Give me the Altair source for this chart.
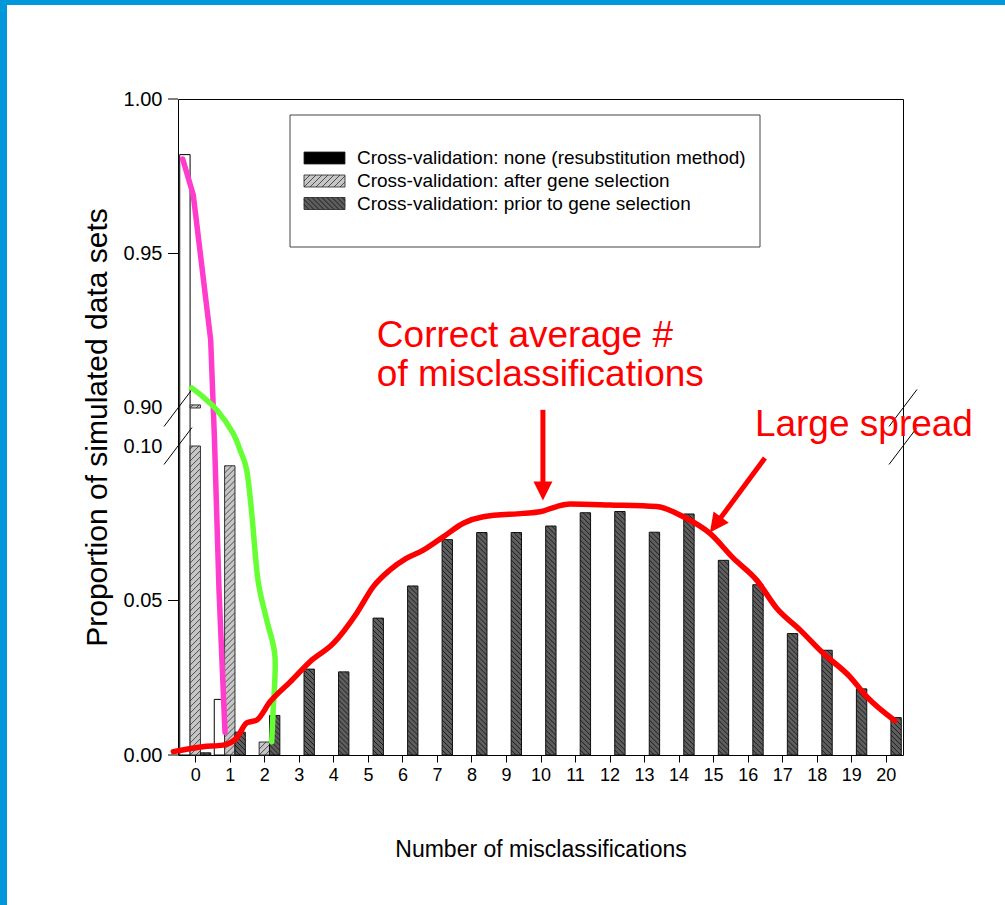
import math
import altair as alt
import pandas as pd

# ---------------------------------------------------------------- data
misclassifications = list(range(21))

series = [
    "Cross-validation: none (resubstitution method)",
    "Cross-validation: after gene selection",
    "Cross-validation: prior to gene selection",
]

# proportion of simulated data sets with a given number of misclassifications
resubstitution = [0.982, 0.018, 0, 0, 0, 0, 0, 0, 0, 0, 0,
                  0, 0, 0, 0, 0, 0, 0, 0, 0, 0]
cv_after = [0.901, 0.0936, 0.0042, 0, 0, 0, 0, 0, 0, 0, 0,
            0, 0, 0, 0, 0, 0, 0, 0, 0, 0]
cv_prior = [0.0007, 0.0074, 0.0128, 0.0278, 0.0269, 0.0443, 0.0547,
            0.0697, 0.0720, 0.0720, 0.0741, 0.0784, 0.0788, 0.0721,
            0.0780, 0.0630, 0.0551, 0.0393, 0.0339, 0.0214, 0.0121]

# y-axis tick labels
y_ticks = [0.00, 0.05, 0.10, 0.90, 0.95, 1.00]

# hand-drawn outlines (x: misclassifications, y: position on the broken axis,
# where the 0.90-1.00 segment sits directly above 0.10)
pink_x = [-0.364, -0.057, 0.447, 0.557, 0.688, 0.861]
pink_y = [0.1929, 0.1812, 0.1343, 0.1019, 0.0534, 0.0074]

green_x = [-0.103, 0.224, 0.621, 1.093, 1.296, 1.490, 1.635, 1.817,
           2.069, 2.310, 2.252, 2.214]
green_y = [0.1188, 0.1159, 0.1117, 0.1042, 0.0987, 0.0922, 0.0783, 0.0566,
           0.0437, 0.0317, 0.0136, 0.0043]

red_x = [-0.636, 0.224, 0.803, 1.200, 1.490, 1.780, 2.165, 2.744, 3.323,
         3.998, 4.676, 5.157, 5.641, 6.124, 6.605, 7.184, 7.764, 8.343,
         9.502, 9.985, 10.469, 10.854, 12.013, 13.366, 14.136, 14.910,
         15.584, 16.262, 16.841, 17.516, 18.191, 18.965, 19.448, 20.268]
red_y = [0.0011, 0.0027, 0.0032, 0.0055, 0.0104, 0.0113, 0.0172, 0.0236,
         0.0302, 0.0361, 0.0459, 0.0545, 0.0599, 0.0637, 0.0663, 0.0706,
         0.0750, 0.0771, 0.0782, 0.0787, 0.0804, 0.0812, 0.0809, 0.0804,
         0.0771, 0.0717, 0.0637, 0.0566, 0.0475, 0.0405, 0.0329, 0.0253,
         0.0189, 0.0111]

# red call-outs
notes = ["Correct average #", "of misclassifications", "Large spread"]
notes_x = [5.26, 5.26, 16.21]
notes_y = [0.1320, 0.1194, 0.1032]

arrow_tail_x = [10.07, 16.50]
arrow_tail_y = [0.1117, 0.0961]
arrow_head_x = [10.07, 15.07]
arrow_head_y = [0.0854, 0.0745]

# ---------------------------------------------------------------- broken axis
LOW_MAX, HIGH_MIN, HIGH_MAX = 0.10, 0.90, 1.00
GAP = 0.0123
SHIFT = round(HIGH_MIN - LOW_MAX - GAP, 4)
X_MIN, X_MAX = -0.5, 20.5
Y_TOP = round(HIGH_MAX - SHIFT, 4)


def axis_pos(v):
    return v if v <= LOW_MAX else round(v - SHIFT, 4)


W, H = 725, 656
XPX = W / (X_MAX - X_MIN)
YPX = H / Y_TOP

xs = alt.Scale(domain=[X_MIN, X_MAX], nice=False, zero=False)
ys = alt.Scale(domain=[0, Y_TOP], nice=False, zero=False)

FONT = "Liberation Sans"

tick_pos = [axis_pos(v) for v in y_ticks]
label_expr = (f"datum.value > {LOW_MAX + GAP / 2} ? "
              f"format(datum.value + {SHIFT}, '.2f') : format(datum.value, '.2f')")

x_axis = alt.Axis(values=misclassifications, tickCount=21, format="d", tickSize=7,
                  labelPadding=4, labelFontSize=18, grid=False, domain=False,
                  labelFlush=False, labelOverlap=False,
                  title="Number of misclassifications", titleFontSize=23,
                  titleFontWeight="normal", titlePadding=54)
y_axis = alt.Axis(values=tick_pos, labelExpr=label_expr, ticks=False,
                  labelPadding=16, labelFontSize=20, grid=False, domain=False,
                  labelOverlap=False, labelFlush=False,
                  title="Proportion of simulated data sets", titleFontSize=30,
                  titleFontWeight="normal", titlePadding=11)


# every layer on the data scales carries the same axis definition
def X(f):
    return alt.X(f, type="quantitative", scale=xs, axis=x_axis)


def Y(f):
    return alt.Y(f, type="quantitative", scale=ys, axis=y_axis)


def hatch(x0, x1, y0, y1, rising, step):
    """45-degree hatch segments inside a box given in pixels (y up)."""
    w, h = x1 - x0, y1 - y0
    segs = []
    if rising:
        k = math.floor(-w / step) + 1
        while k * step < h:
            c = k * step
            a, b = max(0.0, -c), min(w, h - c)
            if b - a > 0.3:
                segs.append((x0 + a, y0 + a + c, x0 + b, y0 + b + c))
            k += 1
    else:
        k = 1
        while k * step < w + h:
            c = k * step
            a, b = max(0.0, c - h), min(w, c)
            if b - a > 0.3:
                segs.append((x0 + a, y0 + c - a, x0 + b, y0 + c - b))
            k += 1
    return segs


styles = {
    series[0]: dict(fill="white", stroke="black", hatch=None),
    series[1]: dict(fill="#c6c6c6", stroke="#333333", hatch=(True, 6.0, "#2e2e2e")),
    series[2]: dict(fill="#5e5e5e", stroke="#111111", hatch=(False, 5.0, "#0d0d0d")),
}
swatch_fill = {series[0]: "black", series[1]: "#c6c6c6", series[2]: "#5e5e5e"}

# ---------------------------------------------------------------- bar pieces
bar_rows, hatch_rows = [], []
for s, (name, vals) in enumerate(zip(series, [resubstitution, cv_after, cv_prior])):
    for c, v in zip(misclassifications, vals):
        if v <= 0:
            continue
        x0 = c - 0.45 + 0.3 * s
        x1 = x0 + 0.3
        if styles[name]["hatch"] is None or v <= LOW_MAX:
            pieces = [(0.0, axis_pos(v))]
        else:
            pieces = [(0.0, LOW_MAX), (axis_pos(HIGH_MIN), axis_pos(v))]
        for y0, y1 in pieces:
            bar_rows.append(dict(series=name, x0=x0, x1=x1, y0=y0, y1=y1))
            if styles[name]["hatch"]:
                rising, step, _ = styles[name]["hatch"]
                for (a, b, cc, d) in hatch((x0 - X_MIN) * XPX, (x1 - X_MIN) * XPX,
                                           y0 * YPX, y1 * YPX, rising, step):
                    hatch_rows.append(dict(series=name,
                                           x=a / XPX + X_MIN, y=b / YPX,
                                           x2=cc / XPX + X_MIN, y2=d / YPX))
bars = pd.DataFrame(bar_rows)
hatches = pd.DataFrame(hatch_rows)

one = pd.DataFrame({"k": [0]})
layers = []

for name in series:
    st = styles[name]
    layers.append(
        alt.Chart(bars).transform_filter(alt.datum.series == name)
        .mark_rect(fill=st["fill"], stroke=st["stroke"], strokeWidth=1)
        .encode(x=X("x0"), x2="x1", y=Y("y0"), y2="y1")
    )
    if st["hatch"]:
        layers.append(
            alt.Chart(hatches).transform_filter(alt.datum.series == name)
            .mark_rule(color=st["hatch"][2], strokeWidth=0.8)
            .encode(x=X("x"), x2="x2", y=Y("y"), y2="y2")
        )

# blue slide frame (left and top strips)
layers.append(alt.Chart(one).mark_rect(color="#0098da").encode(
    x=alt.value(-178), x2=alt.value(-171), y=alt.value(-99), y2=alt.value(806)))
layers.append(alt.Chart(one).mark_rect(color="#0098da").encode(
    x=alt.value(-178), x2=alt.value(827), y=alt.value(-99), y2=alt.value(-94)))

# y-axis ticks, left out at the two break ends
tick_df = pd.DataFrame({"y": [p for v, p in zip(y_ticks, tick_pos)
                              if v not in (LOW_MAX, HIGH_MIN)]})
layers.append(
    alt.Chart(tick_df).mark_rule(color="black", strokeWidth=1)
    .encode(x=alt.value(-10), x2=alt.value(0), y=Y("y"))
)

# ---------------------------------------------------------------- key box (pixels)
BOX = dict(x0=112, x1=582, y0=16, y1=148)
SW_X0, SW_X1, SW_H = 126, 167, 12
ROW_Y = [59, 82, 104.5]
LABEL_X = 179

sw_rows, sw_hatch = [], []
for name, cy in zip(series, ROW_Y):
    top, bot = cy - SW_H / 2, cy + SW_H / 2
    sw_rows.append(dict(series=name, x0=SW_X0, x1=SW_X1, y0=top, y1=bot,
                        lx=LABEL_X, ly=cy))
    if styles[name]["hatch"]:
        rising, step, _ = styles[name]["hatch"]
        for (a, b, c, d) in hatch(SW_X0, SW_X1, -bot, -top, rising, step):
            sw_hatch.append(dict(series=name, x=a, y=-b, x2=c, y2=-d))
swatches = pd.DataFrame(sw_rows)
sw_hatches = pd.DataFrame(sw_hatch)


def PX(f):
    return alt.X(f, type="quantitative", scale=None, axis=None)


def PY(f):
    return alt.Y(f, type="quantitative", scale=None, axis=None)


layers.append(
    alt.Chart(one).mark_rect(fill="white", stroke="#444444", strokeWidth=1).encode(
        x=alt.value(BOX["x0"]), x2=alt.value(BOX["x1"]),
        y=alt.value(BOX["y0"]), y2=alt.value(BOX["y1"]))
)
for name in series:
    layers.append(
        alt.Chart(swatches).transform_filter(alt.datum.series == name)
        .mark_rect(fill=swatch_fill[name], stroke="#222222", strokeWidth=0.8)
        .encode(x=PX("x0"), x2="x1", y=PY("y0"), y2="y1")
    )
    if styles[name]["hatch"]:
        layers.append(
            alt.Chart(sw_hatches).transform_filter(alt.datum.series == name)
            .mark_rule(color=styles[name]["hatch"][2], strokeWidth=0.8)
            .encode(x=PX("x"), x2="x2", y=PY("y"), y2="y2")
        )
layers.append(
    alt.Chart(swatches).mark_text(align="left", baseline="middle", fontSize=19,
                                  font=FONT, color="black")
    .encode(x=PX("lx"), y=PY("ly"), text="series:N")
)

# ---------------------------------------------------------------- axis break marks
sl_rows = []
for xe in (X_MIN, X_MAX):
    for yb in (LOW_MAX, axis_pos(HIGH_MIN)):
        sl_rows.append(dict(x=xe - 14 / XPX, y=yb - 18.5 / YPX,
                            x2=xe + 14 / XPX, y2=yb + 18.5 / YPX))
slashes = pd.DataFrame(sl_rows)
layers.append(
    alt.Chart(slashes).mark_rule(color="black", strokeWidth=1)
    .encode(x=X("x"), x2="x2", y=Y("y"), y2="y2")
)

# ---------------------------------------------------------------- curves
for cx, cy, col, interp in [(pink_x, pink_y, "#ff3ccc", "linear"),
                            (green_x, green_y, "#66ff33", "cardinal"),
                            (red_x, red_y, "#ff0000", "monotone")]:
    df = pd.DataFrame({"x": cx, "y": cy, "i": range(len(cx))})
    layers.append(
        alt.Chart(df).mark_line(color=col, strokeWidth=5.5, strokeCap="round",
                                strokeJoin="round", interpolate=interp)
        .encode(x=X("x"), y=Y("y"), order="i:Q")
    )

# ---------------------------------------------------------------- arrows and notes
arr = pd.DataFrame({"x": arrow_tail_x, "y": arrow_tail_y,
                    "x2": arrow_head_x, "y2": arrow_head_y})
arr["angle"] = [
    math.degrees(math.atan2(-(hx - tx) * XPX, (ty - hy) * YPX)) % 360
    for tx, ty, hx, hy in zip(arrow_tail_x, arrow_tail_y, arrow_head_x, arrow_head_y)
]
layers.append(
    alt.Chart(arr).mark_rule(color="#ff0000", strokeWidth=5)
    .encode(x=X("x"), x2="x2", y=Y("y"), y2="y2")
)
layers.append(
    alt.Chart(arr).mark_point(shape="M-1,-1L1,-1L0,1Z", filled=True, color="#ff0000",
                              opacity=1, size=361)
    .encode(x=X("x2"), y=Y("y2"), angle=alt.Angle("angle:Q", scale=None))
)

note_df = pd.DataFrame({"x": notes_x, "y": notes_y, "t": notes})
layers.append(
    alt.Chart(note_df).mark_text(align="left", baseline="alphabetic", fontSize=37,
                                 font=FONT, color="#ff0000")
    .encode(x=X("x"), y=Y("y"), text="t:N")
)

chart = (
    alt.layer(*layers)
    .properties(width=W, height=H,
                autosize=alt.AutoSizeParams(type="none"),
                padding={"left": 178, "top": 99, "right": 102, "bottom": 150},
                background="white")
    .configure(font=FONT)
    .configure_view(stroke="black", strokeWidth=1)
    .configure_axis(labelColor="black", titleColor="black", tickColor="black",
                    labelFont=FONT, titleFont=FONT)
    .configure_axisX(labelOverlap=False)
)

chart.save("out.html", embed_options={"renderer": "svg", "actions": False})
